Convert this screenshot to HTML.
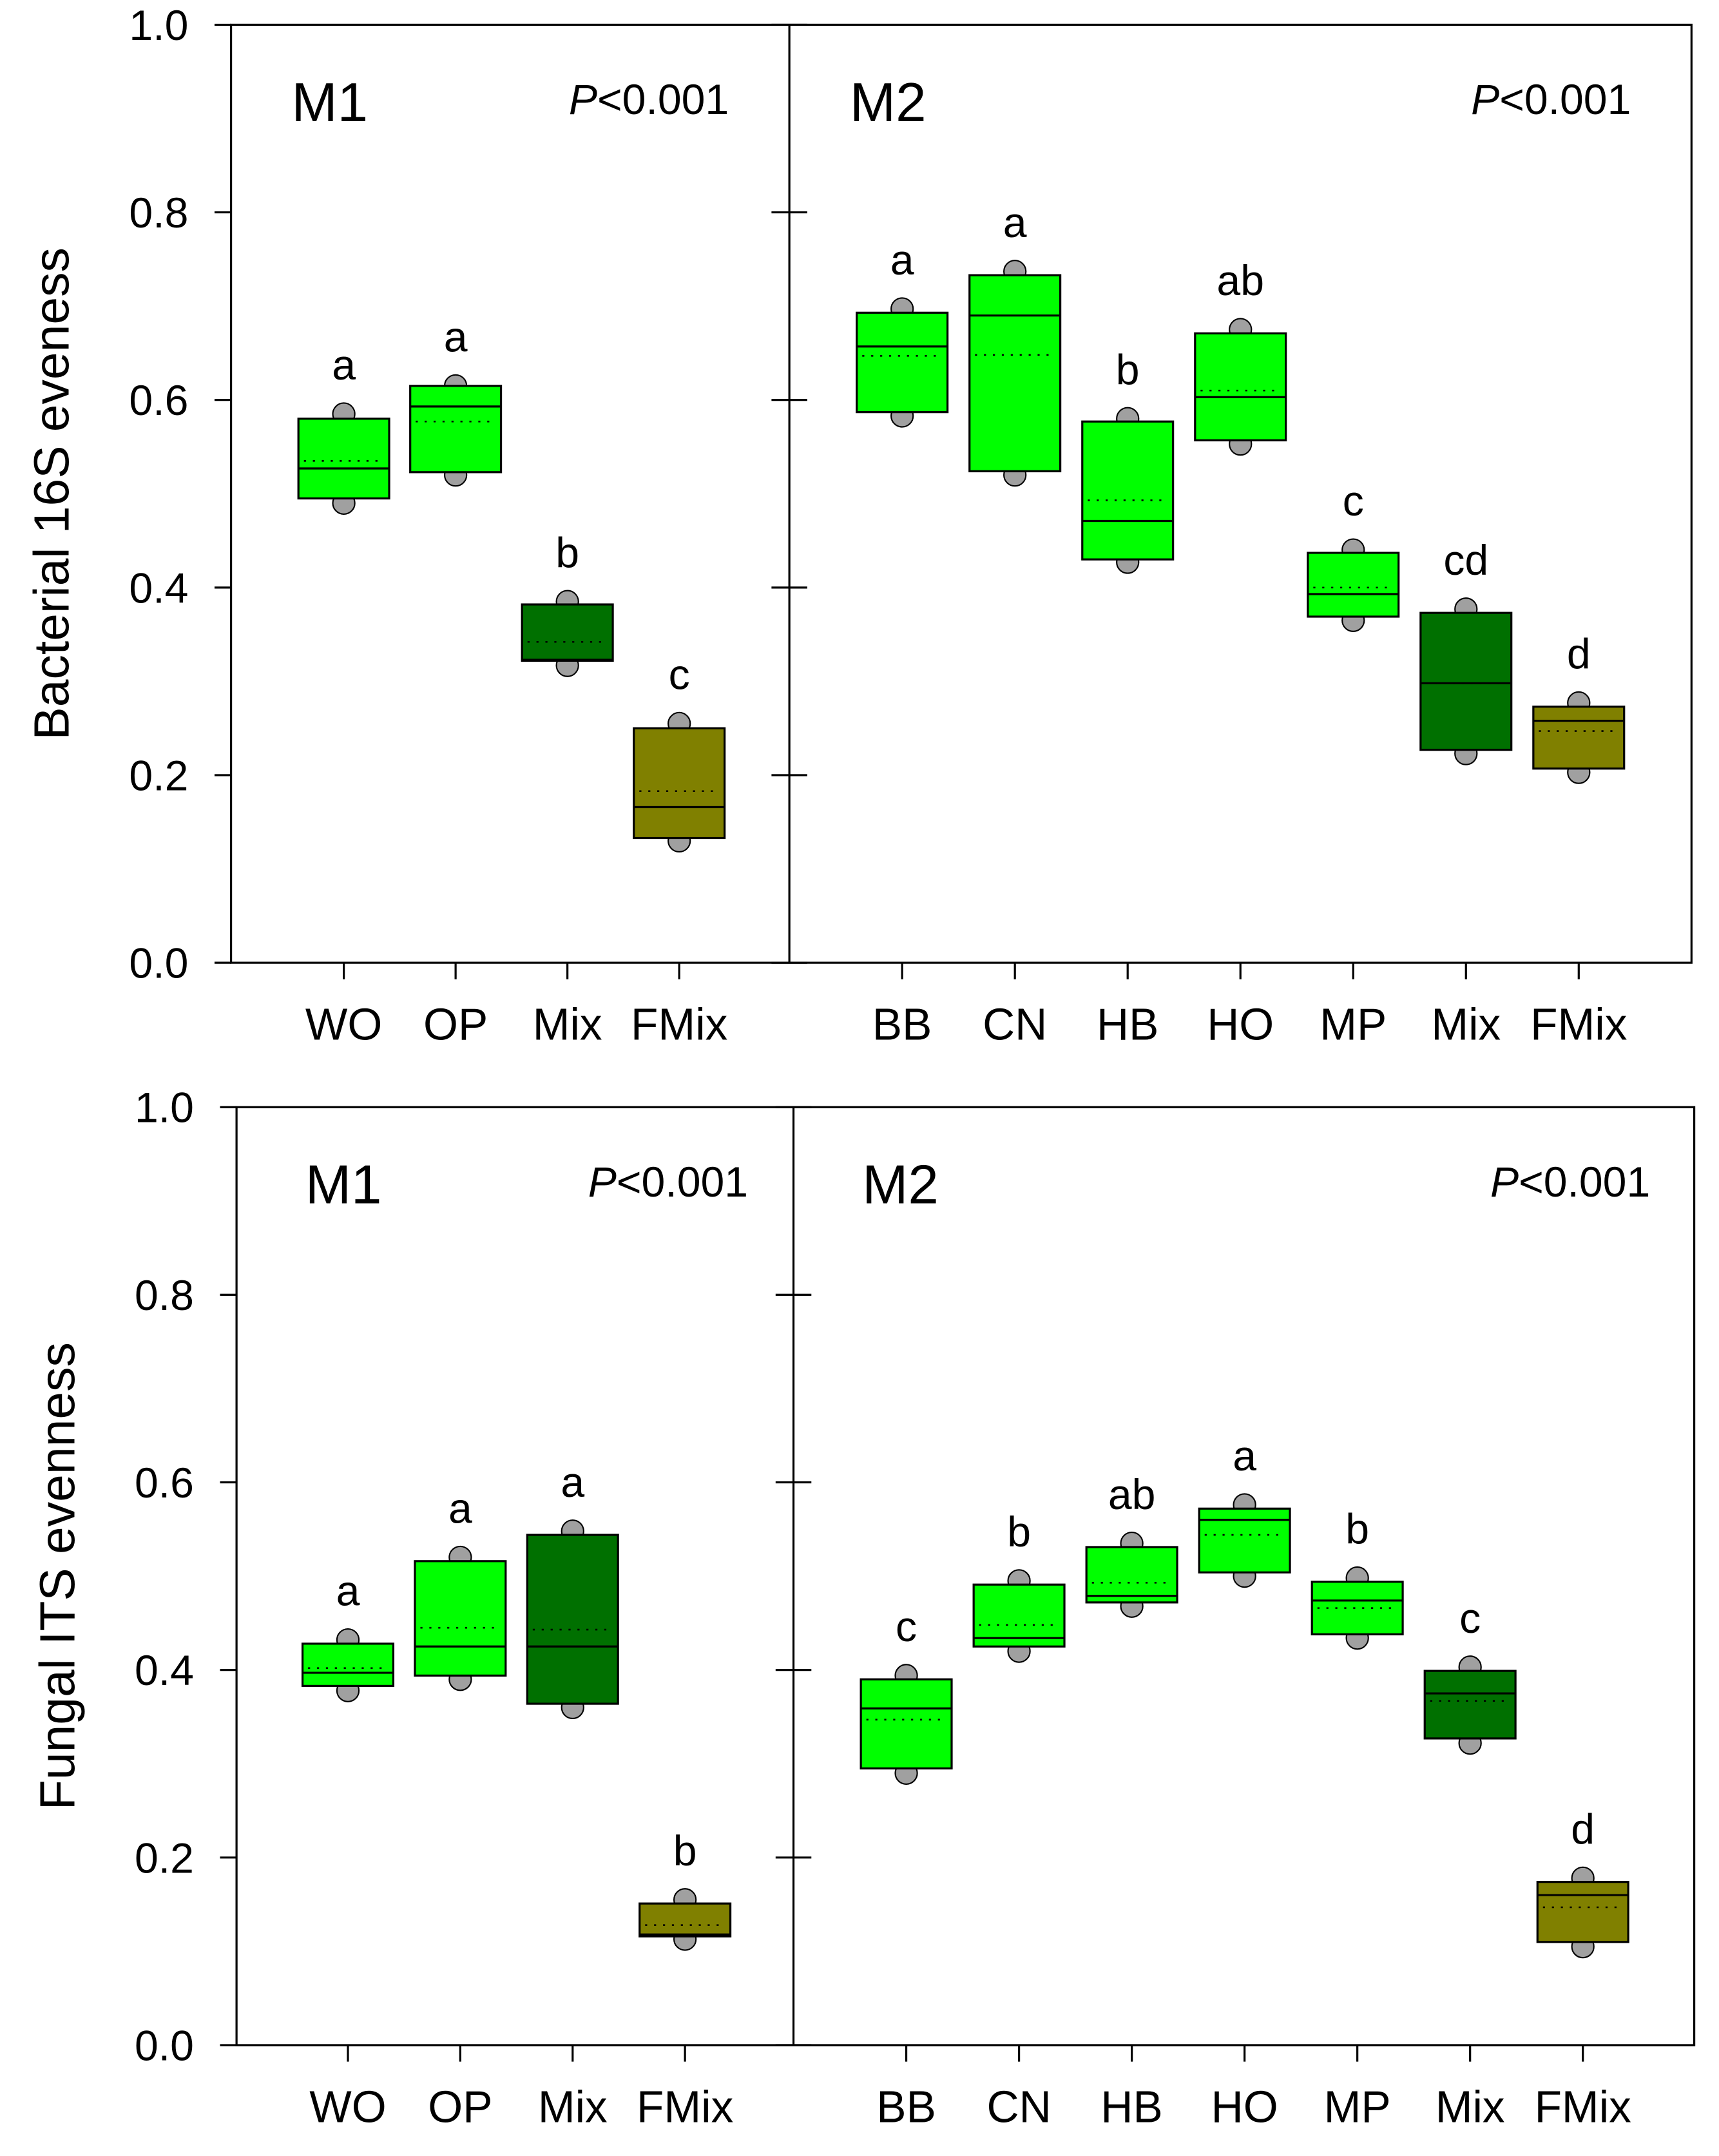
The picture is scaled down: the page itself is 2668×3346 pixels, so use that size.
<!DOCTYPE html>
<html><head><meta charset="utf-8"><style>
html,body{margin:0;padding:0;background:#fff;}
svg{display:block;font-family:"Liberation Sans",Arial,sans-serif;}
</style></head><body>
<svg id="chart" width="2668" height="3346" viewBox="0 0 1250 1567.6" preserveAspectRatio="none" xmlns="http://www.w3.org/2000/svg"></svg>
<script>
// ---- data ----
const m1Categories = ["WO","OP","Mix","FMix"];
const m2Categories = ["BB","CN","HB","HO","MP","Mix","FMix"];
const yTicks = [0.0,0.2,0.4,0.6,0.8,1.0];
const yTickLabels = ["0.0","0.2","0.4","0.6","0.8","1.0"];
const bacM1Q1 = [0.495,0.523,0.322,0.133];
const bacM1Median = [0.527,0.593,0.323,0.166];
const bacM1Q3 = [0.580,0.615,0.382,0.250];
const bacM1Mean = [0.535,0.577,0.342,0.183];
const bacM1Min = [0.490,0.520,0.317,0.130];
const bacM1Max = [0.585,0.615,0.385,0.255];
const bacM1Letters = ["a","a","b","c"];
const bacM2Q1 = [0.587,0.524,0.430,0.557,0.369,0.227,0.207];
const bacM2Median = [0.657,0.690,0.471,0.603,0.393,0.298,0.258];
const bacM2Q3 = [0.693,0.733,0.577,0.671,0.437,0.373,0.273];
const bacM2Mean = [0.647,0.648,0.493,0.610,0.400,0.298,0.247];
const bacM2Min = [0.583,0.520,0.427,0.553,0.365,0.223,0.203];
const bacM2Max = [0.697,0.737,0.580,0.675,0.440,0.377,0.277];
const bacM2Letters = ["a","a","b","ab","c","cd","d"];
const funM1Q1 = [0.383,0.394,0.364,0.116];
const funM1Median = [0.397,0.425,0.425,0.118];
const funM1Q3 = [0.428,0.516,0.544,0.151];
const funM1Mean = [0.402,0.445,0.443,0.128];
const funM1Min = [0.378,0.390,0.360,0.113];
const funM1Max = [0.432,0.520,0.548,0.155];
const funM1Letters = ["a","a","a","b"];
const funM2Q1 = [0.295,0.425,0.472,0.504,0.438,0.327,0.110];
const funM2Median = [0.359,0.434,0.479,0.560,0.474,0.375,0.160];
const funM2Q3 = [0.390,0.491,0.531,0.572,0.494,0.399,0.174];
const funM2Mean = [0.347,0.448,0.493,0.544,0.466,0.367,0.147];
const funM2Min = [0.290,0.420,0.468,0.500,0.434,0.322,0.105];
const funM2Max = [0.394,0.495,0.535,0.576,0.498,0.403,0.178];
const funM2Letters = ["c","b","ab","a","b","c","d"];
const colorFor = {"Mix":"#007000","FMix":"#808000"};

const svg = document.getElementById('chart');
const NS = "http://www.w3.org/2000/svg";
function mk(tag, attrs, parent, text){
  const e = document.createElementNS(NS, tag);
  for (const k in attrs) e.setAttribute(k, attrs[k]);
  if (text !== undefined) e.textContent = text;
  (parent||svg).appendChild(e);
  return e;
}

function panel(cfg){
  const g = mk('g', {});
  
  
  const y = v => cfg.bottom - v*(cfg.bottom-cfg.top);
  const fr = mk('rect',{x:cfg.left,y:cfg.top,width:cfg.right-cfg.left,height:cfg.bottom-cfg.top,fill:'none',stroke:'#000','stroke-width':1.5},g);
  
  
  const dv = mk('line',{x1:cfg.div,x2:cfg.div,y1:cfg.top,y2:cfg.bottom,stroke:'#000','stroke-width':1.5},g);
  
  
  yTicks.forEach((t,i)=>{
    mk('line',{x1:cfg.left-12,x2:cfg.left,y1:y(t),y2:y(t),stroke:'#000','stroke-width':1.5},g);
    mk('line',{x1:cfg.div-13,x2:cfg.div+13,y1:y(t),y2:y(t),stroke:'#000','stroke-width':1.5},g);
    const tl = mk('text',{x:cfg.left-31,y:y(t)+11,'text-anchor':'end','font-size':31},g,yTickLabels[i]);
    
    
  });
  const yt = mk('text',{x:0,y:0,'text-anchor':'middle','font-size':36,transform:`translate(${cfg.titleX},${(cfg.top+cfg.bottom)/2}) rotate(-90)`},g,cfg.title);
  
  
  [cfg.m1,cfg.m2].forEach((s,si)=>{
    const lab = mk('text',{x:s.labelX,y:cfg.top+70,'font-size':40},g,si===0?'M1':'M2');
    
    
    const p = mk('text',{x:s.pX,y:cfg.top+65,'text-anchor':'end','font-size':31},g);
    
    
    mk('tspan',{'font-style':'italic'},p,'P');
    mk('tspan',{},p,'<0.001');
    s.cats.forEach((c,i)=>{
      const x = s.x0 + i*s.step;
      const bg = mk('g',{},g);
      
      
      mk('line',{x1:x,x2:x,y1:cfg.bottom,y2:cfg.bottom+12,stroke:'#000','stroke-width':1.5},bg);
      const cl = mk('text',{x:x,y:cfg.bottom+56,'text-anchor':'middle','font-size':32.5},bg,c);
      
      
      const fill = colorFor[c] || '#00ff00';
      const hw = 33;
      mk('circle',{cx:x,cy:y(s.min[i]),r:8,fill:'#a0a0a0',stroke:'#000','stroke-width':1},bg);
      mk('circle',{cx:x,cy:y(s.max[i]),r:8,fill:'#a0a0a0',stroke:'#000','stroke-width':1},bg);
      mk('rect',{x:x-hw,y:y(s.q3[i]),width:2*hw,height:y(s.q1[i])-y(s.q3[i]),fill:fill,stroke:'#000','stroke-width':1.5},bg);
      mk('line',{x1:x-hw,x2:x+hw,y1:y(s.med[i]),y2:y(s.med[i]),stroke:'#000','stroke-width':1.5},bg);
      mk('line',{x1:x-hw+4,x2:x+hw-4,y1:y(s.mean[i]),y2:y(s.mean[i]),stroke:'#000','stroke-width':1.2,'stroke-dasharray':'1.5 5'},bg);
      const lt = mk('text',{x:x,y:y(s.max[i])-25,'text-anchor':'middle','font-size':31},bg,s.letters[i]);
      
      
    });
  });
}

panel({name:'bacterial-panel',title:'Bacterial 16S eveness',left:168,right:1230,div:574,top:18,bottom:700,titleX:50,
  m1:{cats:m1Categories,x0:250,step:81.3,labelX:212,pX:530,q1:bacM1Q1,med:bacM1Median,q3:bacM1Q3,mean:bacM1Mean,min:bacM1Min,max:bacM1Max,letters:bacM1Letters},
  m2:{cats:m2Categories,x0:656,step:82,labelX:618,pX:1186,q1:bacM2Q1,med:bacM2Median,q3:bacM2Q3,mean:bacM2Mean,min:bacM2Min,max:bacM2Max,letters:bacM2Letters}});
panel({name:'fungal-panel',title:'Fungal ITS evenness',left:172,right:1232,div:577,top:805,bottom:1487,titleX:54,
  m1:{cats:m1Categories,x0:253,step:81.7,labelX:222,pX:544,q1:funM1Q1,med:funM1Median,q3:funM1Q3,mean:funM1Mean,min:funM1Min,max:funM1Max,letters:funM1Letters},
  m2:{cats:m2Categories,x0:659,step:82,labelX:627,pX:1200,q1:funM2Q1,med:funM2Median,q3:funM2Q3,mean:funM2Mean,min:funM2Min,max:funM2Max,letters:funM2Letters}});
</script>
</body></html>
